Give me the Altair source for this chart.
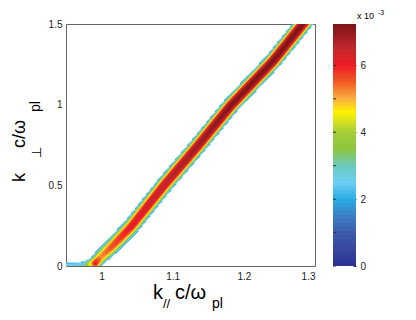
import altair as alt
import numpy as np
import pandas as pd

# ---- axes / ticks ----
X_DOMAIN = [0.95, 1.3]
Y_DOMAIN = [0.0, 1.5]
x_ticks = [1.0, 1.1, 1.2, 1.3]
y_ticks = [0, 0.5, 1, 1.5]
cbar_ticks = [0, 1, 2, 3, 4, 5, 6, 7]
CBAR_MAX = 7.24          # top of colour bar, units of 1e-3
THRESH = 2.0             # below this level the contour fill is white

# ---- ridge of the spectrum (centre line, peak, half width in px) ----
ridge_x = [0.940, 0.975, 0.991, 0.999, 1.014, 1.042, 1.087, 1.135, 1.181, 1.241, 1.283, 1.300]
ridge_y = [0.000, 0.000, 0.017, 0.056, 0.118, 0.246, 0.495, 0.743, 0.991, 1.270, 1.500, 1.590]
ridge_peak = [2.5, 2.9, 6.0, 5.2, 5.6, 6.1, 6.5, 6.9, 7.15, 7.2, 7.2, 7.2]
ridge_hw = [2.6, 3.6, 6.5, 7.0, 7.6, 8.0, 8.2, 8.2, 8.2, 8.2, 8.2, 8.2]

# ---- colour map (colour bar) ----
cmap_stops = [0.0, 0.5, 1.0, 1.5, 2.0, 2.5, 3.0, 3.5, 4.0, 4.6, 5.0, 5.5, 6.0, 6.5, 7.24]
cmap_colors = ["#2e3192", "#36479e", "#3a5ba9", "#3b7fc4", "#29abe2", "#6dcff6", "#6ccbbd",
               "#8dc63f", "#a5cd39", "#fff200", "#fbb040", "#f15a24", "#ed1c24", "#c1272d", "#7f1416"]

W, H = 249, 242
FONT = "Liberation Sans"

# ---- build the heat-map table from the ridge description ----
sx = W / (X_DOMAIN[1] - X_DOMAIN[0])
sy = H / (Y_DOMAIN[1] - Y_DOMAIN[0])
dx = (X_DOMAIN[1] - X_DOMAIN[0]) / 249
dy = (Y_DOMAIN[1] - Y_DOMAIN[0]) / 242
gx = np.arange(X_DOMAIN[0], X_DOMAIN[1] - 1e-9, dx)
gy = np.arange(Y_DOMAIN[0], Y_DOMAIN[1] - 1e-9, dy)
GX, GY = np.meshgrid(gx, gy)
PX = ((GX + dx / 2) - X_DOMAIN[0]) * sx
PY = (GY + dy / 2) * sy
PX = PX.ravel(); PY = PY.ravel()

rx = (np.array(ridge_x) - X_DOMAIN[0]) * sx
ry = np.array(ridge_y) * sy
pk = np.array(ridge_peak); hw = np.array(ridge_hw)
V = np.zeros_like(PX)
for i in range(len(rx) - 1):
    ax_, ay_ = rx[i], ry[i]
    bx_, by_ = rx[i + 1] - ax_, ry[i + 1] - ay_
    L2 = bx_ * bx_ + by_ * by_
    t = np.clip(((PX - ax_) * bx_ + (PY - ay_) * by_) / L2, 0, 1)
    qx = ax_ + t * bx_; qy = ay_ + t * by_
    d = np.hypot(PX - qx, PY - qy)
    p = pk[i] + (pk[i + 1] - pk[i]) * t
    w = hw[i] + (hw[i + 1] - hw[i]) * t
    v = p * np.exp(-np.log(p / THRESH) * (d / w) ** 2.8)
    V = np.maximum(V, v)

keep = V >= THRESH
heat_df = pd.DataFrame({
    "x": np.round(GX.ravel()[keep], 5),
    "x2": np.round(GX.ravel()[keep] + dx * 1.4, 5),
    "y": np.round(GY.ravel()[keep], 5),
    "y2": np.round(GY.ravel()[keep] + dy * 1.4, 5),
    "v": np.round(V[keep], 3),
})

step = 0.04
lo = np.arange(0, CBAR_MAX, step)
cbar_df = pd.DataFrame({"lo": lo, "hi": np.minimum(lo + step * 1.5, CBAR_MAX), "v": lo + step / 2})
tick_df = pd.DataFrame({"t": cbar_ticks})

color_scale = alt.Scale(domain=cmap_stops, range=cmap_colors, interpolate="rgb", clamp=True)

heat = alt.Chart(heat_df).mark_rect(clip=True).encode(
    x=alt.X("x:Q", scale=alt.Scale(domain=X_DOMAIN, nice=False, zero=False),
            axis=alt.Axis(values=x_ticks, format="~g", title=None, grid=False, domain=False,
                          ticks=False, labelPadding=5, labelFontSize=10, labelColor="#222",
                          labelFont=FONT)),
    x2="x2:Q",
    y=alt.Y("y:Q", scale=alt.Scale(domain=Y_DOMAIN, nice=False, zero=False),
            axis=alt.Axis(values=y_ticks, format="~g", title=None, grid=False, domain=False,
                          ticks=False, labelPadding=4, labelFontSize=10, labelColor="#222",
                          labelFont=FONT)),
    y2="y2:Q",
    color=alt.Color("v:Q", scale=color_scale, legend=None),
)


def txt(s, x, y, size, angle=0):
    kw = dict(align="left", baseline="alphabetic", fontSize=size, font=FONT, color="black")
    enc = dict(x=alt.value(x), y=alt.value(y), text="t:N")
    if angle:
        kw["angle"] = angle
        enc["angle"] = alt.value(angle)
    return alt.Chart(pd.DataFrame({"t": [s]})).mark_text(**kw).encode(**enc)


texts = [
    # x title  k_// c/ω_pl
    txt("k", 87, 275, 20), txt("//", 97, 284, 13), txt("c/ω", 109, 275, 20), txt("pl", 146, 284, 14),
    # y title  k_⊥ c/ω_pl (rotated)
    txt("k", -41, 158, 18, 270), txt("⊥", -25, 134, 13, 270),
    txt("c/ω", -41, 124, 18, 270), txt("pl", -26, 88, 14, 270),
    # colour-bar multiplier
    txt("x 10", 291, -5, 9), txt("-3", 312, -9, 7),
]

cbar_rect = alt.Chart(cbar_df).mark_rect().encode(
    x=alt.value(267), x2=alt.value(290),
    y=alt.Y("lo:Q", scale=alt.Scale(domain=[0, CBAR_MAX], nice=False, zero=False),
            axis=alt.Axis(orient="right", offset=38, values=cbar_ticks, format="d", title=None,
                          grid=False, domain=False, tickSize=3, tickColor="#333",
                          labelPadding=4, labelFontSize=10, labelColor="#222", labelFont=FONT)),
    y2="hi:Q",
    color=alt.Color("v:Q", scale=color_scale, legend=None),
)
cbar_rule = alt.Chart(tick_df).mark_rule(color="#333").encode(
    x=alt.value(267), x2=alt.value(270), y=alt.Y("t:Q", title=None))

main = alt.layer(heat, *texts)
cbar = alt.layer(cbar_rect, cbar_rule)

chart = alt.layer(main, cbar).resolve_scale(y="independent").properties(
    width=W, height=H,
    padding={"left": 58, "top": 16, "right": 85, "bottom": 46},
    autosize=alt.AutoSizeParams(type="none"),
).configure_view(stroke="#666", strokeWidth=1)

chart.save("out.html", embed_options={"renderer": "svg", "actions": False})
